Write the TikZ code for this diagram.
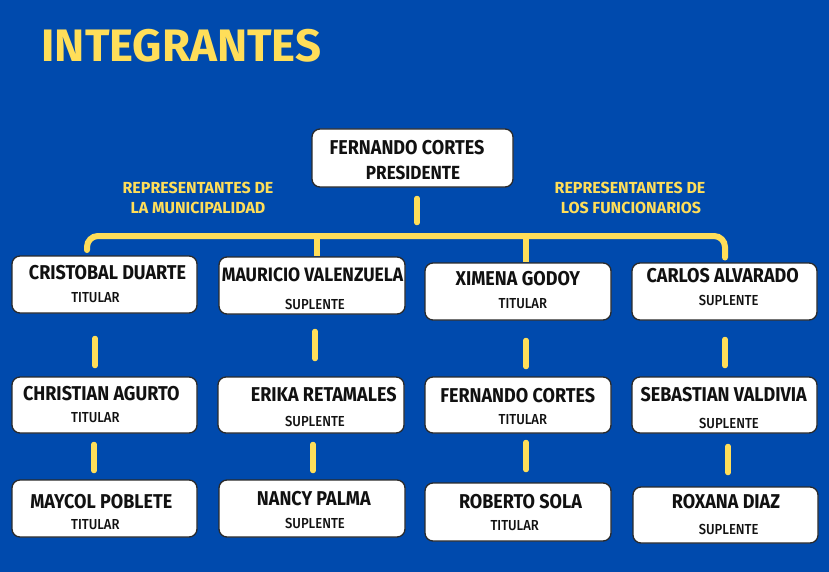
\documentclass[tikz,border=0pt]{standalone}
\usepackage{fontspec}
\setmainfont{Fira Sans}[FakeStretch=0.9]
\newfontfamily\medfont{Fira Sans Medium}[FakeStretch=0.9]
\newfontfamily\widefont{Fira Sans}
\definecolor{bgblue}{HTML}{004AAD}
\definecolor{ylw}{HTML}{FFDE59}
\definecolor{ink}{HTML}{111111}
\definecolor{edge}{HTML}{2A2A2A}
\tikzset{
  box/.style={draw=edge, line width=1.3pt, fill=white, rounded corners=8pt, inner sep=0pt},
  nm/.style={text=ink, font=\bfseries\fontsize{20}{20}\selectfont, inner sep=0pt},
  role/.style={text=ink, font=\medfont\fontsize{14.5}{14.5}\selectfont, inner sep=0pt},
  rep/.style={text=ylw, font=\widefont\bfseries\fontsize{16}{16}\selectfont, inner sep=0pt},
  yline/.style={draw=ylw, line width=5.5pt, line cap=round},
}
\newcommand{\bx}[5]{% name, left, top, right, bottom
  \node[box, minimum width={(#4-#2)*1pt}, minimum height={(#5-#3)*1pt}] (#1) at ({(#2+#4)/2},{(#3+#5)/2}) {};}
\begin{document}
\begin{tikzpicture}[x=1pt,y=-1pt]
\fill[bgblue] (0,0) rectangle (829,572);
\useasboundingbox (0,0) rectangle (829,572);

\node[text=ylw, font=\widefont\bfseries\fontsize{45.5}{45.5}\selectfont, inner sep=0pt] (title) at (181.5,46) {INTEGRANTES};

% president
\bx{pres}{312}{129}{513}{187}
\node[nm] (presn) at (407,147.5) {FERNANDO CORTES};
\node[nm, font=\bfseries\fontsize{19}{19}\selectfont] (presr) at (413,172.5) {PRESIDENTE};

% labels
\node[rep] (repl1) at (198,188) {REPRESENTANTES DE};
\node[rep] (repl2) at (198,208) {LA MUNICIPALIDAD};
\node[rep] (repr1) at (630,188) {REPRESENTANTES DE};
\node[rep] (repr2) at (631,208) {LOS FUNCIONARIOS};

% row 1
\bx{a1}{12}{256}{197}{313}
\bx{a2}{219}{257}{405}{314}
\bx{a3}{425}{263}{611}{320}
\bx{a4}{632}{263}{817}{320}
% row 2
\bx{b1}{12}{377}{197}{433}
\bx{b2}{218}{377}{404}{433}
\bx{b3}{425}{377}{611}{433}
\bx{b4}{632}{377}{817}{433}
% row 3
\bx{c1}{12}{480}{197}{537}
\bx{c2}{219}{480}{405}{537}
\bx{c3}{425}{483}{611}{541}
\bx{c4}{633}{487}{818}{543}

% texts row 1
\node[nm] (a1n) at (107.5,273) {CRISTOBAL DUARTE};
\node[role] (a1r) at (95.5,298) {TITULAR};
\node[nm, font=\bfseries\fontsize{19.4}{19.4}\selectfont] (a2n) at (312.5,275) {MAURICIO VALENZUELA};
\node[role] (a2r) at (315,304) {SUPLENTE};
\node[nm] (a3n) at (517.8,279) {XIMENA GODOY};
\node[role] (a3r) at (522.8,304) {TITULAR};
\node[nm] (a4n) at (722.7,276) {CARLOS ALVARADO};
\node[role] (a4r) at (728.7,300) {SUPLENTE};
% texts row 2
\node[nm] (b1n) at (101.3,394) {CHRISTIAN AGURTO};
\node[role] (b1r) at (95.3,418) {TITULAR};
\node[nm] (b2n) at (323.7,395) {ERIKA RETAMALES};
\node[role] (b2r) at (315,421) {SUPLENTE};
\node[nm] (b3n) at (517.7,396) {FERNANDO CORTES};
\node[role] (b3r) at (522.8,420) {TITULAR};
\node[nm] (b4n) at (723.7,395) {SEBASTIAN VALDIVIA};
\node[role] (b4r) at (729,423) {SUPLENTE};
% texts row 3
\node[nm] (c1n) at (101.3,502) {MAYCOL POBLETE};
\node[role] (c1r) at (95.3,525) {TITULAR};
\node[nm] (c2n) at (313.8,499) {NANCY PALMA};
\node[role] (c2r) at (315,523) {SUPLENTE};
\node[nm] (c3n) at (520.5,502) {ROBERTO SOLA};
\node[role] (c3r) at (514.7,526) {TITULAR};
\node[nm] (c4n) at (726,502) {ROXANA DIAZ};
\node[role] (c4r) at (728.7,529) {SUPLENTE};

% connector coordinates
\coordinate (p1) at (417,198.5);
\coordinate (p2) at (417,222.5);
\coordinate (busL) at (87,250);
\coordinate (busLt) at (87,236);
\coordinate (busRt) at (725,236);
\coordinate (busR) at (725,257.5);
\coordinate (d2t) at (316.5,236);
\coordinate (d2b) at (316.5,256);
\coordinate (d3t) at (526,236);
\coordinate (d3b) at (526,262);
\coordinate (u1t) at (95,338.5);   \coordinate (u1b) at (95,365.5);
\coordinate (u2t) at (315,331.5);  \coordinate (u2b) at (315,358.5);
\coordinate (u3t) at (526,340.5);  \coordinate (u3b) at (526,366.5);
\coordinate (u4t) at (725,339.5);  \coordinate (u4b) at (725,365.5);
\coordinate (v1t) at (94,444.5);   \coordinate (v1b) at (94,470.5);
\coordinate (v2t) at (313,444.5);  \coordinate (v2b) at (313,470.5);
\coordinate (v3t) at (526,442.5);  \coordinate (v3b) at (526,469.5);
\coordinate (v4t) at (728,446.5);  \coordinate (v4b) at (728,472.5);

\draw[yline] (p1) -- (p2);
\draw[yline, line width=6pt, rounded corners=11pt] (busL) -- (busLt) -- (busRt) -- (busR);
\draw[yline, line width=6pt, line cap=butt] (d2t) -- (d2b);
\draw[yline, line width=6pt, line cap=butt] (d3t) -- (d3b);
\foreach \c in {u1,u2,u3,u4,v1,v2,v3,v4}{
  \draw[yline] (\c t) -- (\c b);
}
\end{tikzpicture}
\end{document}
